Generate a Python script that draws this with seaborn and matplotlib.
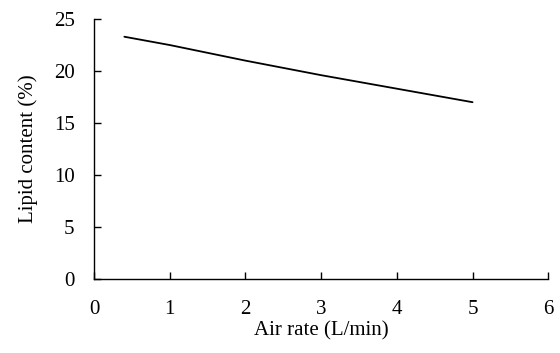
import matplotlib
matplotlib.use("Agg")
import matplotlib.pyplot as plt
import seaborn as sns
import pandas as pd

air_rate = [0.4, 1, 2, 3, 4, 5]
lipid = [23.3, 22.5, 21.0, 19.6, 18.3, 17.0]
xticks = [0, 1, 2, 3, 4, 5, 6]
yticks = [0, 5, 10, 15, 20, 25]

sns.set_theme(style="ticks")
plt.rcParams['font.family'] = ['Liberation Serif', 'DejaVu Serif']

df = pd.DataFrame({"Air rate": air_rate, "Lipid": lipid})
fig = plt.figure(figsize=(5.6, 3.53), dpi=100)
ax = fig.add_axes([0.168, 0.21, 0.811, 0.736])
sns.lineplot(data=df, x="Air rate", y="Lipid", ax=ax, color="black", linewidth=1.3)
ax.set_xlim(0, 6)
ax.set_ylim(0, 25)
ax.set_xticks(xticks)
ax.set_yticks(yticks)
ax.tick_params(direction="in", length=5, width=1, labelsize=15, colors="black")
ax.tick_params(axis="x", pad=15)
ax.tick_params(axis="y", pad=14)
for s in ["top", "right"]:
    ax.spines[s].set_visible(False)
for s in ["left", "bottom"]:
    ax.spines[s].set_color("black")
    ax.spines[s].set_linewidth(1)
ax.set_xlabel("Air rate (L/min)", fontsize=15, color="black", labelpad=2)
ax.set_ylabel("Lipid content (%)", fontsize=15, color="black", labelpad=11)
fig.savefig("out.png", dpi=100, facecolor="white")
